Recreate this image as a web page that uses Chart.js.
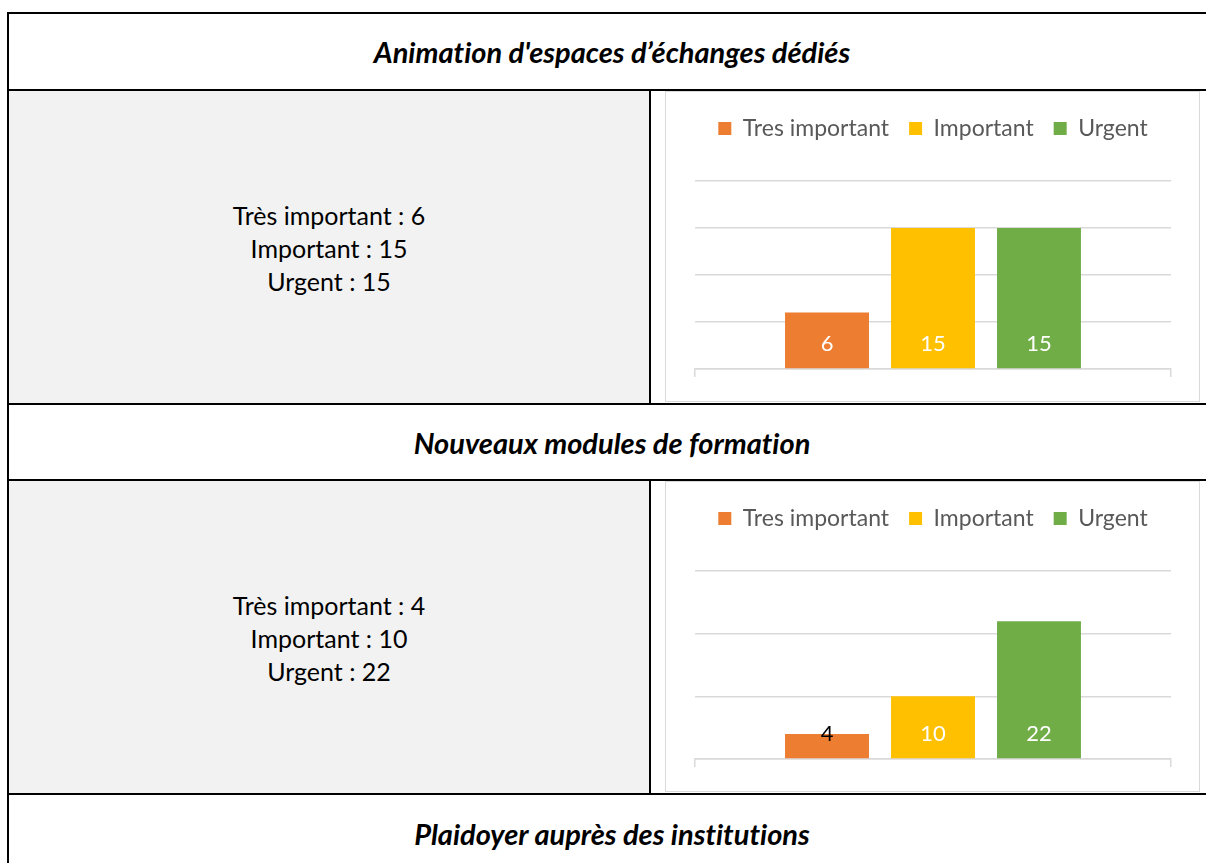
<!DOCTYPE html>
<html><head><meta charset="utf-8">
<script src="https://cdn.jsdelivr.net/npm/chart.js@4.4.0/dist/chart.umd.min.js"></script>
<style>
html,body{margin:0;padding:0;background:#fff;}
body{width:1206px;height:863px;overflow:hidden;position:relative;font-family:Lato,"Open Sans",sans-serif;font-variant-ligatures:none;}
.line{position:absolute;background:#000;}
.title{position:absolute;left:9px;width:1206px;display:flex;align-items:center;justify-content:center;font-weight:bold;font-style:italic;font-size:29px;color:#000;}
.gray{position:absolute;left:9px;width:640px;height:312px;background:#f2f2f2;display:flex;flex-direction:column;align-items:center;justify-content:center;font-size:25px;line-height:33px;color:#000;padding-top:3px;box-sizing:border-box;}
.frame{position:absolute;left:665px;width:535px;height:311px;border:1px solid #d9d9d9;box-sizing:border-box;background:#fff;}
</style></head>
<body>
<div class="line" style="left:7px;top:12px;width:1215px;height:2px"></div>
<div class="line" style="left:7px;top:89px;width:1215px;height:2px"></div>
<div class="line" style="left:7px;top:403px;width:1215px;height:2px"></div>
<div class="line" style="left:7px;top:479px;width:1215px;height:2px"></div>
<div class="line" style="left:7px;top:793px;width:1215px;height:2px"></div>
<div class="line" style="left:7px;top:12px;width:2px;height:860px"></div>
<div class="line" style="left:649px;top:91px;width:2px;height:312px"></div>
<div class="line" style="left:649px;top:481px;width:2px;height:312px"></div>

<div class="title" id="t0" style="top:14px;height:75px"></div>
<div class="gray" id="g0" style="top:91px"></div>
<div class="frame" style="top:91px"><canvas id="c0" width="533" height="309"></canvas></div>

<div class="title" id="t1" style="top:405px;height:74px"></div>
<div class="gray" id="g1" style="top:481px"></div>
<div class="frame" style="top:481px"><canvas id="c1" width="533" height="309"></canvas></div>

<div class="title" id="t2" style="top:795px;height:76px"></div>

<script>
// ---- data ----
const sectionTitles = ["Animation d'espaces d\u2019échanges dédiés", "Nouveaux modules de formation", "Plaidoyer auprès des institutions"];
const seriesNames = ["Tres important", "Important", "Urgent"];
const textLabels = ["Très important", "Important", "Urgent"];
const chart1Values = [6, 15, 15];
const chart2Values = [4, 10, 22];
const chart1Ticks = [0, 5, 10, 15, 20];
const chart2Ticks = [0, 10, 20, 30];

// ---- styles ----
const seriesColors = ["#ED7D31", "#FFC000", "#70AD47"];
const chart1LabelColors = ["#FFFFFF", "#FFFFFF", "#FFFFFF"];
const chart2LabelColors = ["#000000", "#FFFFFF", "#FFFFFF"];

sectionTitles.forEach((t, i) => { document.getElementById('t' + i).textContent = t; });

function fillText(id, values) {
  const el = document.getElementById(id);
  textLabels.forEach((lab, i) => {
    const d = document.createElement('div');
    d.textContent = lab + ' : ' + values[i];
    el.appendChild(d);
  });
}
fillText('g0', chart1Values);
fillText('g1', chart2Values);

const valueLabels = {
  id: 'valueLabels',
  afterDatasetsDraw(chart, args, opts) {
    const ctx = chart.ctx;
    const y0 = chart.scales.y.getPixelForValue(0);
    ctx.save();
    ctx.font = '22px Lato, "Open Sans", sans-serif';
    ctx.textAlign = 'center';
    ctx.textBaseline = 'middle';
    chart.data.datasets.forEach((ds, i) => {
      const meta = chart.getDatasetMeta(i);
      meta.data.forEach((bar, j) => {
        ctx.fillStyle = opts.colors[i];
        ctx.fillText(String(ds.data[j]), bar.x, y0 - 25);
      });
    });
    ctx.restore();
  }
};

function makeChart(id, values, ticks, labelColors) {
  new Chart(document.getElementById(id), {
    type: 'bar',
    data: {
      labels: [''],
      datasets: seriesNames.map((n, i) => ({
        label: n,
        data: [values[i]],
        backgroundColor: seriesColors[i],
        borderWidth: 0,
        categoryPercentage: 0.668,
        barPercentage: 0.792
      }))
    },
    options: {
      responsive: false,
      animation: false,
      devicePixelRatio: 1,
      layout: { padding: { left: 29, right: 28, top: 5, bottom: 24 } },
      scales: {
        x: {
          offset: true,
          grid: { display: true, drawOnChartArea: false, drawTicks: true, tickLength: 8, color: '#d9d9d9', lineWidth: 1.5, offset: true },
          border: { display: true, color: '#d9d9d9', width: 1.5 },
          ticks: { display: false }
        },
        y: {
          min: ticks[0],
          max: ticks[ticks.length - 1],
          ticks: { display: false, stepSize: ticks[1] - ticks[0] },
          grid: { color: '#d9d9d9', lineWidth: 1.5, drawTicks: false },
          border: { display: false }
        }
      },
      plugins: {
        legend: {
          position: 'top',
          labels: { boxWidth: 13, boxHeight: 13, padding: 20, color: '#595959', font: { family: 'Lato', size: 23 } }
        },
        title: { display: true, text: '', weight: 500, font: { size: 12, lineHeight: 1 }, padding: { top: 10, bottom: 9 } },
        tooltip: { enabled: false },
        valueLabels: { colors: labelColors }
      }
    },
    plugins: [valueLabels]
  });
}
makeChart('c0', chart1Values, chart1Ticks, chart1LabelColors);
makeChart('c1', chart2Values, chart2Ticks, chart2LabelColors);
</script>
</body></html>
